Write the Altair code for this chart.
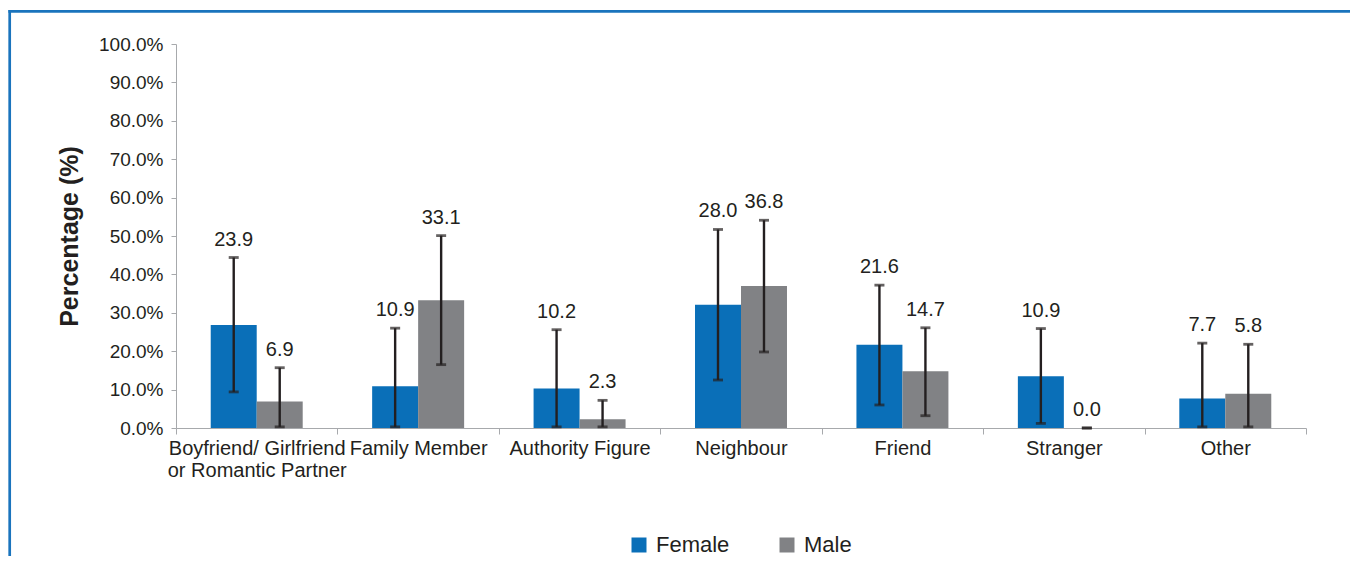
import altair as alt
import pandas as pd

categories = ["Boyfriend/ Girlfriend|or Romantic Partner", "Family Member", "Authority Figure",
              "Neighbour", "Friend", "Stranger", "Other"]
groups = ["Female", "Male"]

female_values = [26.8, 10.9, 10.3, 32.1, 21.7, 13.5, 7.7]
male_values = [6.9, 33.3, 2.3, 37.0, 14.8, 0.0, 8.9]

female_low = [9.4, 0.3, 0.3, 12.5, 6.0, 1.2, 0.3]
female_high = [44.4, 26.0, 25.6, 51.7, 37.2, 25.9, 22.1]
male_low = [0.3, 16.5, 0.3, 19.8, 3.2, 0.0, 0.3]
male_high = [15.7, 50.1, 7.2, 54.1, 26.1, 0.0, 21.8]

female_labels = ["23.9", "10.9", "10.2", "28.0", "21.6", "10.9", "7.7"]
male_labels = ["6.9", "33.1", "2.3", "36.8", "14.7", "0.0", "5.8"]

y_ticks = [0, 10, 20, 30, 40, 50, 60, 70, 80, 90, 100]

rows = []
for i, c in enumerate(categories):
    rows.append(dict(category=c, sex="Female", value=female_values[i], low=female_low[i],
                     high=female_high[i], label=female_labels[i]))
    rows.append(dict(category=c, sex="Male", value=male_values[i], low=male_low[i],
                     high=male_high[i], label=male_labels[i]))
df = pd.DataFrame(rows)

FONT = "Liberation Sans"
INK = "#231f20"
AXIS_GRAY = "#a7a9ac"
BLUE = "#0a6fb8"
GRAY = "#818285"
FRAME = "#1a74bd"

x_enc = alt.X(
    "category:N", sort=categories,
    scale=alt.Scale(paddingInner=0, paddingOuter=0),
    axis=alt.Axis(
        title=None, labelAngle=0, tickBand="extent", domainColor=AXIS_GRAY, tickColor=AXIS_GRAY,
        tickSize=6, labelPadding=4, labelFont=FONT, labelFontSize=20, labelColor=INK,
        labelLimit=400, labelLineHeight=22, labelExpr="split(datum.label, '|')", grid=False,
    ),
)
xo_enc = alt.XOffset("sex:N", sort=groups, scale=alt.Scale(paddingInner=0, paddingOuter=0.755))
y_axis = alt.Axis(
    title="Percentage (%)", values=y_ticks, labelExpr="format(datum.value, '.1f') + '%'",
    domainColor=AXIS_GRAY, tickColor=AXIS_GRAY, tickSize=5, labelPadding=8, grid=False,
    labelFont=FONT, labelFontSize=19, labelColor=INK,
    titleFont=FONT, titleFontSize=25, titleFontWeight="bold", titleColor=INK,
    titleAngle=-90, titleX=-107, titleY=192, titleAlign="center", titleBaseline="middle",
)
y_scale = alt.Scale(domain=[0, 100], nice=False)

base = alt.Chart(df)

bars = base.mark_bar().encode(
    x=x_enc, xOffset=xo_enc,
    y=alt.Y("value:Q", scale=y_scale, axis=y_axis),
    color=alt.Color(
        "sex:N", scale=alt.Scale(domain=groups, range=[BLUE, GRAY]),
        legend=alt.Legend(
            orient="none", legendX=452, legendY=490, direction="horizontal", title=None,
            symbolType="square", symbolSize=225, symbolStrokeWidth=0, labelOffset=6,
            columnPadding=46, labelFont=FONT, labelFontSize=22, labelColor=INK, padding=0,
        ),
    ),
)

whiskers = base.mark_rule(color=INK, strokeWidth=2.4).encode(
    x=x_enc, xOffset=xo_enc,
    y=alt.Y("low:Q", scale=y_scale, axis=y_axis), y2="high:Q",
)

cap_low = base.mark_tick(orient="horizontal", size=10, thickness=2.8, color=INK).encode(
    x=x_enc, xOffset=xo_enc, y=alt.Y("low:Q", scale=y_scale, axis=y_axis),
)
cap_high = base.mark_tick(orient="horizontal", size=10, thickness=2.8, color=INK).encode(
    x=x_enc, xOffset=xo_enc, y=alt.Y("high:Q", scale=y_scale, axis=y_axis),
)

labels = base.mark_text(font=FONT, fontSize=20, color=INK, baseline="middle", dy=-18).encode(
    x=x_enc, xOffset=xo_enc, y=alt.Y("high:Q", scale=y_scale, axis=y_axis), text="label:N",
)

frame_df = pd.DataFrame({"a": [0]})
frame_left = alt.Chart(frame_df).mark_rule(color=FRAME, strokeWidth=2.7).encode(
    x=alt.value(-166.3), y=alt.value(-34), y2=alt.value(520),
)
frame_top = alt.Chart(frame_df).mark_rule(color=FRAME, strokeWidth=2.7).encode(
    x=alt.value(-167.6), x2=alt.value(1175), y=alt.value(-32.7),
)

chart = alt.layer(bars, whiskers, cap_low, cap_high, labels, frame_left, frame_top).properties(
    width=1130, height=384,
    autosize=alt.AutoSizeParams(type="none"),
    padding={"left": 168, "top": 36, "right": 44, "bottom": 128},
    background="white",
).configure_view(stroke=None)

chart.save("out.html", embed_options={"renderer": "svg", "actions": False})
